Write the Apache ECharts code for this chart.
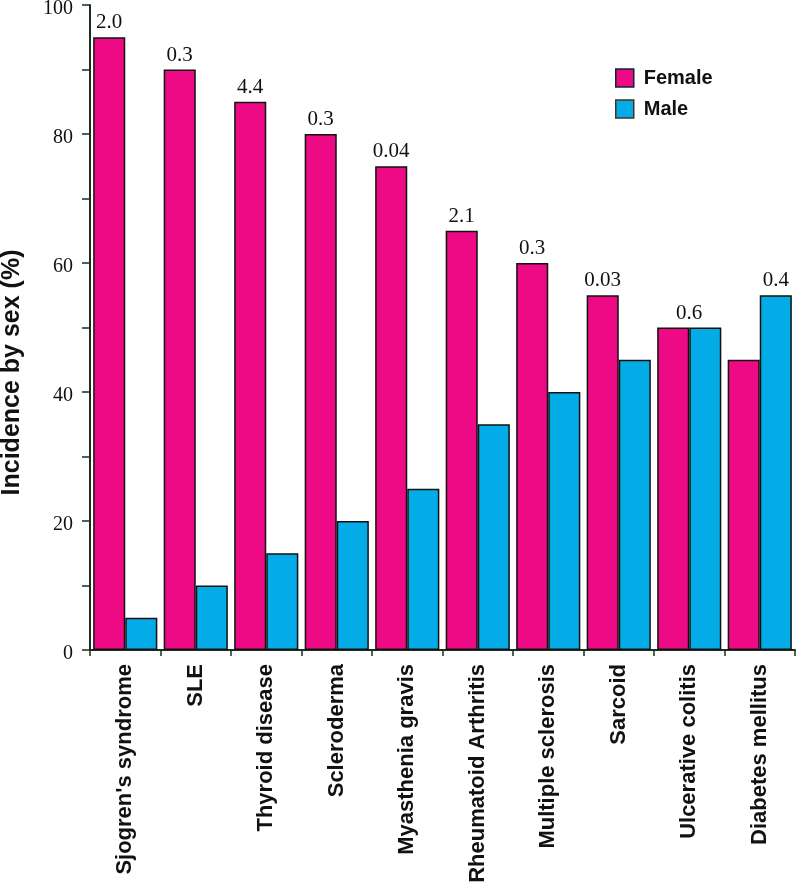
<!DOCTYPE html>
<html>
<head>
<meta charset="utf-8">
<script src="https://cdn.jsdelivr.net/npm/echarts@6/dist/echarts.min.js"></script>
<style>
html,body{margin:0;padding:0;background:#fff;}
#chart{width:800px;height:882px;}
</style>
</head>
<body>
<div id="chart"></div>
<script>
const categories = ["Sjogren's syndrome", "SLE", "Thyroid disease", "Scleroderma", "Myasthenia gravis", "Rheumatoid Arthritis", "Multiple sclerosis", "Sarcoid", "Ulcerative colitis", "Diabetes mellitus"];
const female = [95, 90, 85, 80, 75, 65, 60, 55, 50, 45];
const male = [5, 10, 15, 20, 25, 35, 40, 45, 50, 55];
const ratios = ["2.0", "0.3", "4.4", "0.3", "0.04", "2.1", "0.3", "0.03", "0.6", "0.4"];
const yTicks = [0, 20, 40, 60, 80, 100];

const labelStyle = {
  position: 'top',
  distance: 4,
  fontFamily: 'Liberation Serif',
  fontSize: 21,
  color: '#111'
};

const femaleData = female.map((v, i) => ({
  value: v,
  label: Object.assign({}, labelStyle, {
    show: v >= male[i],
    formatter: ratios[i],
    offset: v === male[i] ? [16, 0] : [0, 0]
  })
}));
const maleData = male.map((v, i) => ({
  value: v,
  label: Object.assign({}, labelStyle, {
    show: v > female[i],
    formatter: ratios[i]
  })
}));

const axisColor = '#1a2e22';
const chart = echarts.init(document.getElementById('chart'));
chart.setOption({
  animation: false,
  backgroundColor: '#fff',
  grid: { left: 90, right: 5, top: 5, bottom: 232, containLabel: false, outerBoundsMode: 'none' },
  legend: {
    orient: 'vertical',
    left: 610,
    top: 63,
    itemWidth: 18,
    itemHeight: 18,
    itemGap: 11,
    textStyle: { fontFamily: 'Liberation Sans', fontWeight: 'bold', fontSize: 20, color: '#111', padding: [0, 0, 0, 5] },
    data: [
      { name: 'Female', icon: 'rect', itemStyle: { borderColor: '#123', borderWidth: 1.5 } },
      { name: 'Male', icon: 'rect', itemStyle: { borderColor: '#432', borderWidth: 1.5 } }
    ]
  },
  xAxis: {
    type: 'category',
    data: categories,
    axisLine: { show: true, lineStyle: { color: axisColor, width: 2 } },
    axisTick: { show: true, alignWithLabel: false, length: 6, lineStyle: { color: axisColor, width: 1.5 } },
    axisLabel: {
      rotate: 90,
      interval: 0,
      margin: 14,
      fontFamily: 'Liberation Sans',
      fontWeight: 'bold',
      fontSize: 22,
      color: '#111'
    }
  },
  yAxis: {
    type: 'value',
    min: 0,
    max: 100,
    interval: 10,
    name: 'Incidence by sex (%)',
    nameLocation: 'middle',
    nameGap: 65,
    nameTextStyle: { fontFamily: 'Liberation Sans', fontWeight: 'bold', fontSize: 25, color: '#111', padding: [0, 90, 0, 0] },
    splitLine: { show: false },
    axisLine: { show: true, lineStyle: { color: axisColor, width: 2 } },
    axisTick: { show: true, length: 8, lineStyle: { color: axisColor, width: 1.5 } },
    axisLabel: {
      margin: 17,
      verticalAlign: 'top',
      lineHeight: 8,
      fontFamily: 'Liberation Serif',
      fontSize: 20,
      color: '#111',
      formatter: v => (yTicks.indexOf(v) >= 0 ? String(v) : '')
    }
  },
  series: [
    {
      name: 'Female',
      type: 'bar',
      data: femaleData,
      barGap: '0%',
      barCategoryGap: '9%',
      itemStyle: { color: '#EE0A85', borderColor: '#111', borderWidth: 1.5 }
    },
    {
      name: 'Male',
      type: 'bar',
      data: maleData,
      barGap: '0%',
      barCategoryGap: '9%',
      itemStyle: { color: '#03ACE6', borderColor: '#111', borderWidth: 1.5 }
    }
  ]
});
</script>
</body>
</html>
